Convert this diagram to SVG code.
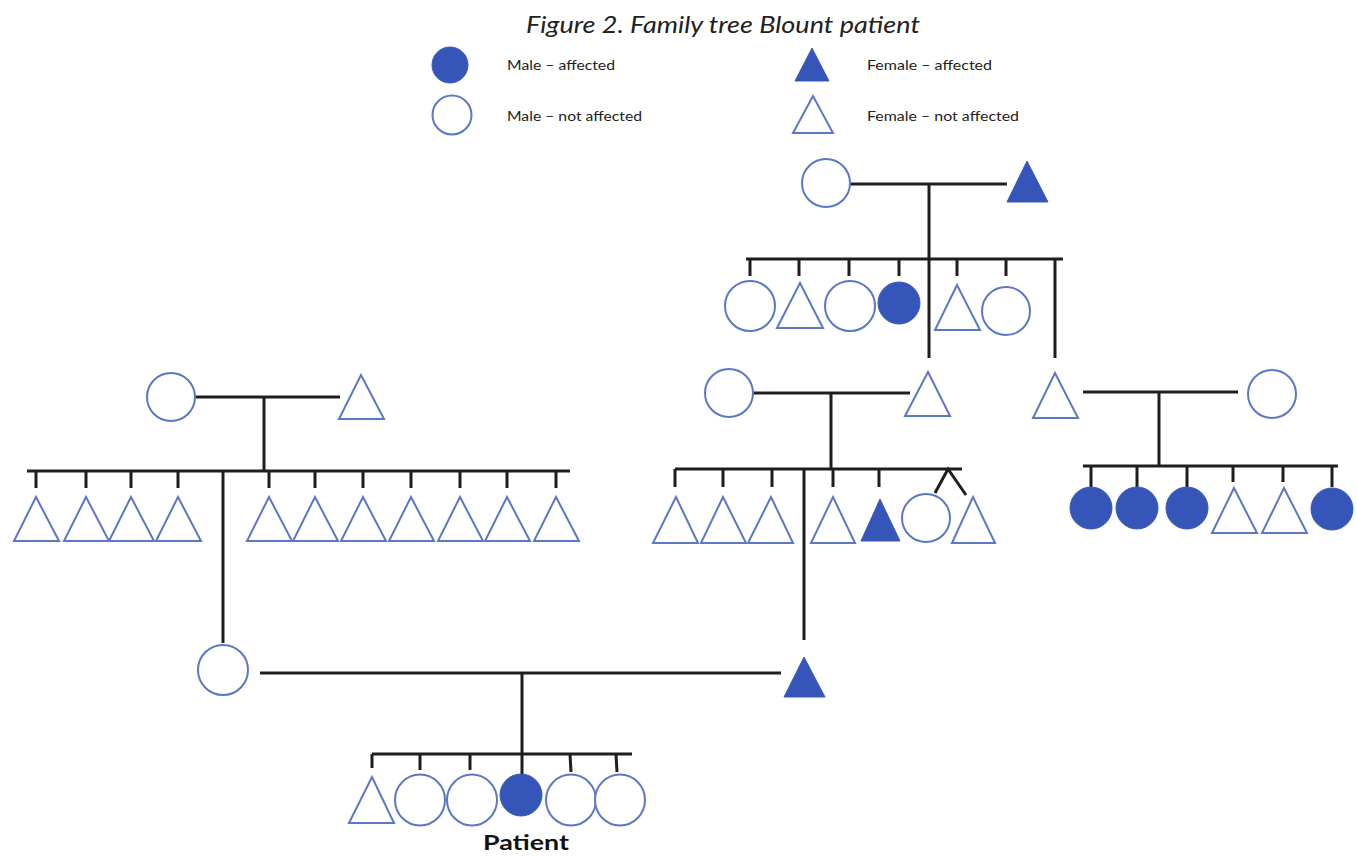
<svg xmlns="http://www.w3.org/2000/svg" width="1357" height="857" viewBox="0 0 1357 857">
<style>
.ln{stroke:#1e1e1e;stroke-width:3;fill:none}
.o{fill:#fff;stroke:#5b78c4;stroke-width:2}
.f{fill:#3556b8;stroke:#3a5aba;stroke-width:1}
.lg{font-family:Lato,"Liberation Sans",sans-serif;font-size:13.5px;fill:#222}
.tt{font-family:Lato,"Liberation Sans",sans-serif;font-style:italic;font-size:24px;fill:#222}
.pt{font-family:Lato,"Liberation Sans",sans-serif;font-weight:bold;font-size:21px;fill:#111}
</style>
<rect width="1357" height="857" fill="#fff"/>
<text class="tt" x="526" y="33" textLength="394" lengthAdjust="spacingAndGlyphs">Figure 2. Family tree Blount patient</text>

<g id="legend">
<circle class="f" cx="450" cy="65" r="18"/>
<text class="lg" x="507" y="70" textLength="108" lengthAdjust="spacingAndGlyphs">Male – affected</text>
<circle class="o" cx="452" cy="115" r="19.5"/>
<text class="lg" x="507" y="121" textLength="135" lengthAdjust="spacingAndGlyphs">Male – not affected</text>
<polygon class="f" points="812,48 795,81 829,81"/>
<text class="lg" x="867" y="70" textLength="125" lengthAdjust="spacingAndGlyphs">Female – affected</text>
<polygon class="o" points="813,96 793,133 833,133"/>
<text class="lg" x="867" y="121" textLength="152" lengthAdjust="spacingAndGlyphs">Female – not affected</text>
</g>

<g id="connectors">
<path class="ln" d="M850,184 H1007 M929,184 V358 M746,259 H1063 M750,259 V276 M799,259 V276 M849,259 V276 M899,259 V276 M957,259 V276 M1006,259 V276 M1055,259 V358"/>
<path class="ln" d="M195,397 H340 M264,397 V471 M27,471 H570 M36,471 V488 M86,471 V488 M131,471 V488 M178,471 V488 M269,471 V488 M315,471 V488 M363,471 V488 M411,471 V488 M460,471 V488 M507,471 V488 M556,471 V488 M223,471 V643"/>
<path class="ln" d="M753,393 H910 M831,393 V469 M675,469 H962 M675,469 V487 M723,469 V487 M772,469 V487 M833,469 V487 M879,469 V487 M935,493 L948,469 L966,495 M804,469 V640"/>
<path class="ln" d="M1083,392 H1238 M1159,392 V466 M1083,466 H1338 M1091,466 V487 M1137,466 V487 M1187,466 V487 M1233,466 V482 M1283,466 V482 M1332,466 V487"/>
<path class="ln" d="M260,673 H781 M522,673 V754 M372,754 H632 M372,754 V768 M420,754 V770 M470,754 V770 M522,754 V775 M570,754 L571,772 M616,754 L617,772"/>
</g>

<g id="top-parents">
<circle class="o" cx="826" cy="183" r="24"/>
<polygon class="f" points="1027,161 1007,202 1048,202"/>
</g>
<g id="top-children">
<circle class="o" cx="750" cy="306" r="25"/>
<polygon class="o" points="800,283 777,328 823,328"/>
<circle class="o" cx="850" cy="306" r="25"/>
<circle class="f" cx="899" cy="303" r="21"/>
<polygon class="o" points="957,285 935,330 980,330"/>
<circle class="o" cx="1006" cy="311" r="24"/>
</g>

<g id="left-parents">
<circle class="o" cx="171" cy="397" r="24"/>
<polygon class="o" points="361,375 339,419 384,419"/>
</g>
<g id="left-children">
<polygon class="o" points="36,497 14,541 59,541"/>
<polygon class="o" points="86,497 64,541 109,541"/>
<polygon class="o" points="131,497 109,541 154,541"/>
<polygon class="o" points="178,497 156,541 201,541"/>
<polygon class="o" points="269,497 247,541 292,541"/>
<polygon class="o" points="315,497 293,541 338,541"/>
<polygon class="o" points="363,497 341,541 386,541"/>
<polygon class="o" points="411,497 389,541 434,541"/>
<polygon class="o" points="460,497 438,541 483,541"/>
<polygon class="o" points="507,497 485,541 530,541"/>
<polygon class="o" points="556,497 534,541 579,541"/>
</g>

<g id="middle-parents">
<circle class="o" cx="729" cy="393" r="24"/>
<polygon class="o" points="928,372 905,416 950,416"/>
</g>
<g id="middle-children">
<polygon class="o" points="676,497 653,543 698,543"/>
<polygon class="o" points="723,497 701,543 746,543"/>
<polygon class="o" points="771,497 748,543 793,543"/>
<polygon class="o" points="833,497 811,543 855,543"/>
<polygon class="f" points="880,499 861,541 900,541"/>
<circle class="o" cx="926" cy="518" r="24"/>
<polygon class="o" points="973,497 952,543 995,543"/>
</g>

<g id="right-parents">
<polygon class="o" points="1055,373 1033,418 1078,418"/>
<circle class="o" cx="1272" cy="394" r="24"/>
</g>
<g id="right-children">
<circle class="f" cx="1091" cy="508" r="21"/>
<circle class="f" cx="1137" cy="508" r="21"/>
<circle class="f" cx="1187" cy="508" r="21"/>
<polygon class="o" points="1234,488 1212,533 1257,533"/>
<polygon class="o" points="1284,488 1262,533 1307,533"/>
<circle class="f" cx="1332" cy="509" r="21"/>
</g>

<g id="bottom-parents">
<circle class="o" cx="223" cy="670" r="25"/>
<polygon class="f" points="804,657 784,697 825,697"/>
</g>
<g id="bottom-children">
<polygon class="o" points="372,777 349,823 394,823"/>
<ellipse class="o" cx="420" cy="800" rx="25" ry="25.5"/>
<ellipse class="o" cx="472" cy="800" rx="25" ry="25.5"/>
<circle class="f" cx="521" cy="795" r="21"/>
<ellipse class="o" cx="571" cy="800" rx="25" ry="25.5"/>
<ellipse class="o" cx="620" cy="800" rx="25" ry="25.5"/>
</g>

<g id="patient-label">
<text class="pt" x="526" y="850" text-anchor="middle" textLength="86" lengthAdjust="spacingAndGlyphs">Patient</text>
</g>
</svg>
